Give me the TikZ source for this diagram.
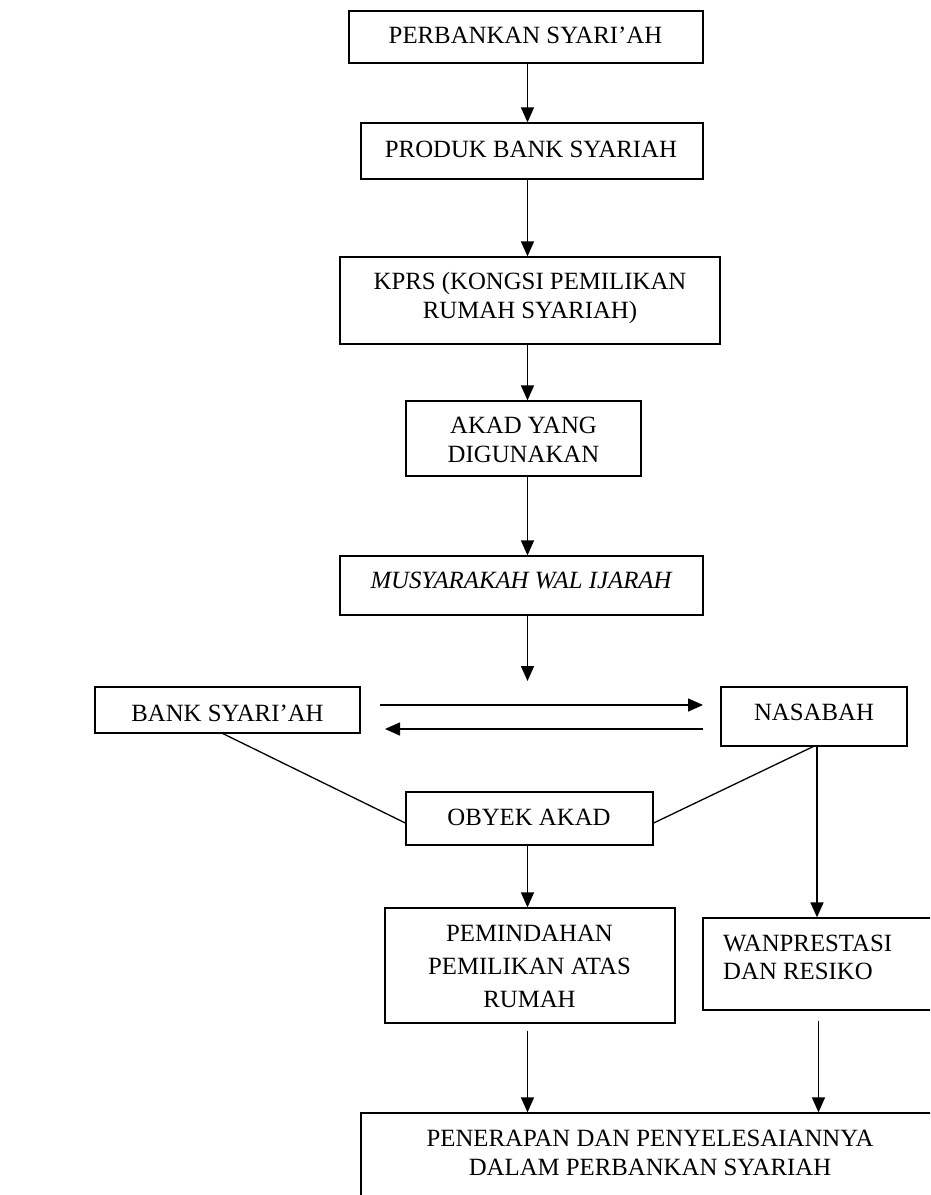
\documentclass[tikz,border=0pt]{standalone}
\usepackage{fontspec}
\setmainfont{Liberation Serif}
\usetikzlibrary{arrows.meta}
\begin{document}
\begin{tikzpicture}[x=1pt,y=-1pt,
  box/.style={draw,line width=1.3pt,rectangle,inner sep=0pt},
  txt/.style={inner sep=0pt,align=center,font=\fontsize{24.8}{29}\selectfont},
  arr/.style={line width=1.5pt,-{Triangle[length=15pt,width=13pt]}},
  ln/.style={line width=1.3pt}]
\useasboundingbox (0,0) rectangle (930,1195);
\clip (0,0) rectangle (930,1195);
\fill[white] (0,0) rectangle (930,1195);
% boxes
\node[box,minimum width=354pt,minimum height=52pt] (b1) at (526,37) {};
\node[box,minimum width=342pt,minimum height=56pt] (b2) at (532,151) {};
\node[box,minimum width=380pt,minimum height=87pt] (b3) at (530,300.5) {};
\node[box,minimum width=235pt,minimum height=75pt] (b4) at (523.5,438.5) {};
\node[box,minimum width=363pt,minimum height=59pt] (b5) at (521.5,585.5) {};
\node[box,minimum width=265pt,minimum height=46pt] (bank) at (227.5,710) {};
\node[box,minimum width=186pt,minimum height=59pt] (nas) at (814,716.5) {};
\node[box,minimum width=247pt,minimum height=53pt] (obyek) at (529.5,818.5) {};
\node[box,minimum width=290pt,minimum height=115pt] (pem) at (530,965.5) {};
\node[box,minimum width=237pt,minimum height=92pt] (wan) at (821.5,964) {};
\node[box,minimum width=579pt,minimum height=97pt] (bot) at (650.5,1161.5) {};
% texts
\node[txt,anchor=base] (t1) at (525.5,43) {PERBANKAN SYARI’AH};
\node[txt,anchor=base] (t2) at (531,157) {PRODUK BANK SYARIAH};
\node[txt] (t3) at (530,298.5) {KPRS (KONGSI PEMILIKAN\\RUMAH SYARIAH)};
\node[txt] (t4) at (523.5,440.3) {AKAD YANG\\DIGUNAKAN};
\node[txt,anchor=base,font=\fontsize{24.8}{29}\selectfont\itshape] (t5) at (521,588) {MUSYARAKAH WAL IJARAH};
\node[txt,anchor=base] (tbank) at (227.5,721) {BANK SYARI’AH};
\node[txt,anchor=base] (tnas) at (814,720) {NASABAH};
\node[txt,anchor=base] (tob) at (529,825) {OBYEK AKAD};
\node[txt,font=\fontsize{24.8}{33}\selectfont] (tpem) at (529.5,966.8) {PEMINDAHAN\\PEMILIKAN ATAS\\RUMAH};
\node[txt,align=left,anchor=west,font=\fontsize{24.8}{28}\selectfont] (twan) at (723,957.8) {WANPRESTASI\\DAN RESIKO};
\node[txt] (tbot) at (650,1153.3) {PENERAPAN DAN PENYELESAIANNYA\\DALAM PERBANKAN SYARIAH};
% helper coordinates
\coordinate (ax) at (527.5,0);
\coordinate (endm) at (527.5,681);
\coordinate (ua) at (380,705);
\coordinate (ub) at (703,705);
\coordinate (la) at (703,729);
\coordinate (lb) at (385,729);
\coordinate (nx) at (817,0);
\coordinate (wx) at (818.5,0);
% connectors
\draw[arr] (b1.south -| ax) -- (b2.north -| ax);
\draw[arr] (b2.south -| ax) -- (b3.north -| ax);
\draw[arr] (b3.south -| ax) -- (b4.north -| ax);
\draw[arr] (b4.south -| ax) -- (b5.north -| ax);
\draw[arr] (b5.south -| ax) -- (endm);
\draw[arr] (ua) -- (ub);
\draw[arr] (la) -- (lb);
\draw[ln] ([xshift=-4.5pt]bank.south) -- ([yshift=-4.5pt]obyek.west);
\draw[ln] ([yshift=-4.5pt]obyek.east) -- ([xshift=-1pt]nas.south);
\draw[arr] (nas.south -| nx) -- (wan.north -| nx);
\draw[arr] (obyek.south -| ax) -- (pem.north -| ax);
\draw[arr,shorten <=7pt] (pem.south -| ax) -- (bot.north -| ax);
\draw[arr,shorten <=10pt] (wan.south -| wx) -- (bot.north -| wx);
\end{tikzpicture}
\end{document}
